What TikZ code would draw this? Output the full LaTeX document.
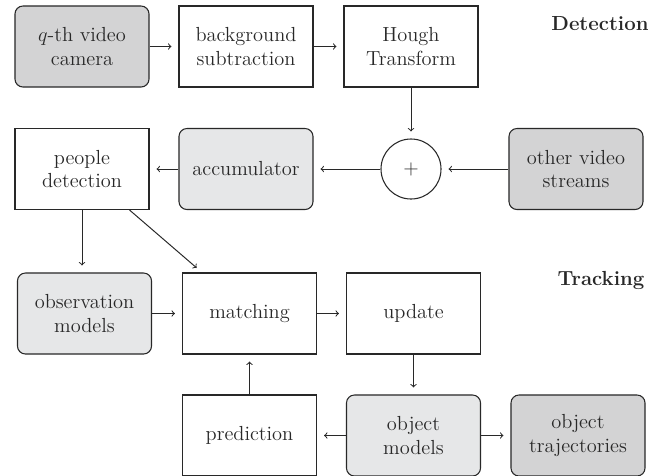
\documentclass[tikz,border=0pt]{standalone}
\usepackage[RGB]{xcolor}
\usepackage{tikz}
\definecolor{darkbox}{RGB}{211,211,212}
\definecolor{lightbox}{RGB}{230,231,232}
\definecolor{ink}{RGB}{40,40,40}
\newcommand{\flowtext}{\fontsize{14.5}{17}\selectfont}
\newcommand{\drawarrow}{\draw[->,shorten >=5pt]}
\tikzset{
  block/.style={draw=ink, line width=0.75pt, text=ink, minimum width=3.35cm,
    minimum height=2.025cm, align=center, inner sep=0pt, font=\flowtext},
  softblock/.style={block, rounded corners=0.2cm, fill=lightbox},
  hardblock/.style={block, rounded corners=0.2cm, fill=darkbox},
  sumnode/.style={draw=ink, line width=0.75pt, text=ink, circle, minimum size=1.5cm,
    inner sep=0pt, font=\flowtext},
  heading/.style={text=ink, font=\flowtext\bfseries},
}

\begin{document}
\begin{tikzpicture}[x=0.025cm, y=-0.025cm, line width=0.7pt, draw=ink]
\useasboundingbox (0,0) rectangle (664,475);
% detection
\node[hardblock] (cam) at (82,46.5) {$q$-th video\\camera};
\node[block] (bgsub) at (246,46.5) {background\\subtraction};
\node[block] (hough) at (411,46.5) {Hough\\Transform};
\node[heading] (dethead) at (600,24) {Detection};
\node[block] (people) at (82,169) {people\\detection};
\node[softblock] (accu) at (246,169) {accumulator};
\node[sumnode] (sum) at (411,169) {$+$};
\node[hardblock] (others) at (576,169) {other video\\streams};
% tracking
\node[softblock] (obs) at (84.5,313.5) {observation\\models};
\node[block] (match) at (249.5,313.5) {matching};
\node[block] (upd) at (413.5,313.5) {update};
\node[heading] (trackhead) at (601,280) {Tracking};
\node[block] (pred) at (249.5,435.5) {prediction};
\node[softblock] (objmod) at (413.5,435.5) {object\\models};
\node[hardblock] (traj) at (578,435.5) {object\\trajectories};

\drawarrow (cam) -- (bgsub);
\drawarrow (bgsub) -- (hough);
\drawarrow (hough) -- (sum);
\drawarrow (others) -- (sum);
\drawarrow (sum) -- (accu);
\drawarrow (accu) -- (people);
\drawarrow (people.south) -- (people.south |- obs.north);
\drawarrow (people) -- (match);
\drawarrow (obs) -- (match);
\drawarrow (match) -- (upd);
\drawarrow (upd) -- (objmod);
\drawarrow (objmod) -- (pred);
\drawarrow (objmod) -- (traj);
\drawarrow (pred) -- (match);
\end{tikzpicture}
\end{document}
